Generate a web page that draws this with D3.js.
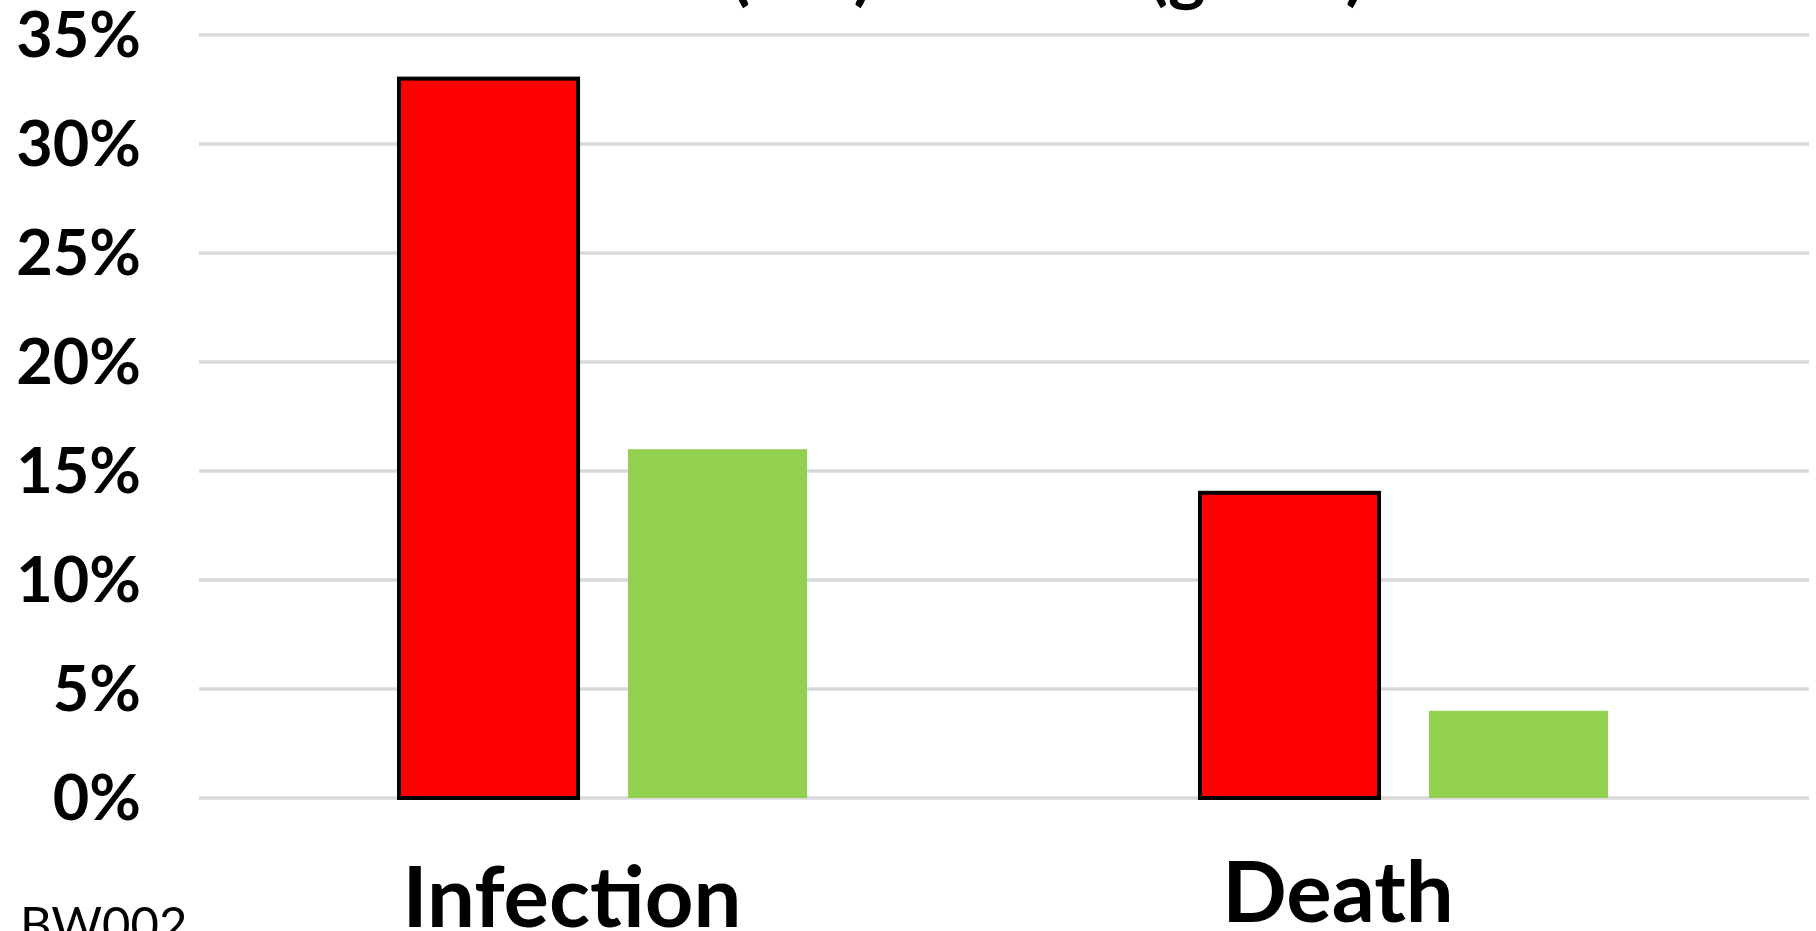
<!DOCTYPE html>
<html>
<head>
<meta charset="utf-8">
<script src="https://cdnjs.cloudflare.com/ajax/libs/d3/7.8.5/d3.min.js"></script>
<style>
  body { margin: 0; background: #fff; }
  text { font-family: Lato, "Open Sans", sans-serif; }
</style>
</head>
<body>
<div id="chart"></div>
<script>
var width = 1816;
var height = 931;

var categories = ["Infection", "Death"];
var seriesNames = ["low", "high"];
var lowValues = [0.33, 0.14];
var highValues = [0.16, 0.04];
var yTicks = [0, 0.05, 0.10, 0.15, 0.20, 0.25, 0.30, 0.35];
var footnote = "BW002";

var COLORS = { low: "#ff0000", high: "#92d050" };
var plot = { left: 199, right: 1809, top: 35, bottom: 798 };
// category labels sit left of their groups in the original
var labelShift = { Infection: -31, Death: -66 };
var labelBase = { Infection: 927, Death: 922 };

var svg = d3.select("#chart")
    .append("svg")
    .attr("width", width)
    .attr("height", height)
    .style("display", "block");

svg.append("rect")
    .attr("width", width)
    .attr("height", height)
    .attr("fill", "#fff");

var y = d3.scaleLinear()
    .domain([0, 0.35])
    .range([plot.bottom, plot.top]);

var x0 = d3.scaleBand()
    .domain(categories)
    .range([plot.left, plot.right - 1])
    .paddingInner(0.4906)
    .paddingOuter(0.2497);

var x1 = d3.scaleBand()
    .domain(seriesNames)
    .range([0, x0.bandwidth()])
    .paddingInner(0.218);

// gridlines
svg.append("g")
    .selectAll("line")
    .data(yTicks)
    .enter()
    .append("line")
    .attr("x1", plot.left)
    .attr("x2", plot.right)
    .attr("y1", function(d){ return y(d); })
    .attr("y2", function(d){ return y(d); })
    .attr("stroke", "#d9d9d9")
    .attr("stroke-width", 3.5);

// y axis labels
var yAxis = d3.axisLeft(y)
    .tickValues(yTicks)
    .tickSize(0)
    .tickPadding(0)
    .tickFormat(d3.format(".0%"));

var yg = svg.append("g")
    .attr("transform", "translate(141,0)")
    .call(yAxis);
yg.select(".domain").remove();
yg.selectAll("text")
    .attr("font-family", "Lato, sans-serif")
    .attr("font-weight", "bold")
    .attr("font-size", 63)
    .attr("fill", "#000")
    .attr("dy", "0.36em")
    .attr("y", -1);

var rows = categories.map(function(c, i){
    return { cat: c, low: lowValues[i], high: highValues[i] };
});

var groups = svg.selectAll("g.group")
    .data(rows)
    .enter()
    .append("g")
    .attr("class", "group")
    .attr("transform", function(d){ return "translate(" + x0(d.cat) + ",0)"; });

groups.selectAll("rect")
    .data(function(d){
        return seriesNames.map(function(s){ return { key: s, value: d[s] }; });
    })
    .enter()
    .append("rect")
    .attr("x", function(d){ return x1(d.key); })
    .attr("y", function(d){ return y(d.value); })
    .attr("width", x1.bandwidth())
    .attr("height", function(d){ return y(0) - y(d.value); })
    .attr("fill", function(d){ return COLORS[d.key]; })
    .attr("stroke", function(d){ return d.key == "low" ? "#000" : "none"; })
    .attr("stroke-width", 4);

// category labels
svg.append("g")
    .selectAll("text")
    .data(categories)
    .enter()
    .append("text")
    .attr("x", function(d){ return x0(d) + x0.bandwidth() / 2 + labelShift[d]; })
    .attr("y", function(d){ return labelBase[d]; })
    .attr("text-anchor", "middle")
    .attr("font-weight", "bold")
    .attr("font-size", 85)
    .attr("fill", "#000")
    .text(function(d){ return d; });

// title, mostly cut off at the top edge
svg.append("text")
    .attr("x", 873)
    .attr("y", -3)
    .attr("text-anchor", "end")
    .attr("font-weight", "bold")
    .attr("font-size", 71)
    .text("Low (red)");

svg.append("text")
    .attr("x", 1365)
    .attr("y", -3)
    .attr("text-anchor", "end")
    .attr("font-weight", "bold")
    .attr("font-size", 71)
    .text("Normal (green)");

svg.append("text")
    .attr("x", 20)
    .attr("y", 942)
    .attr("font-size", 49)
    .attr("fill", "#000")
    .text(footnote);
</script>
</body>
</html>
